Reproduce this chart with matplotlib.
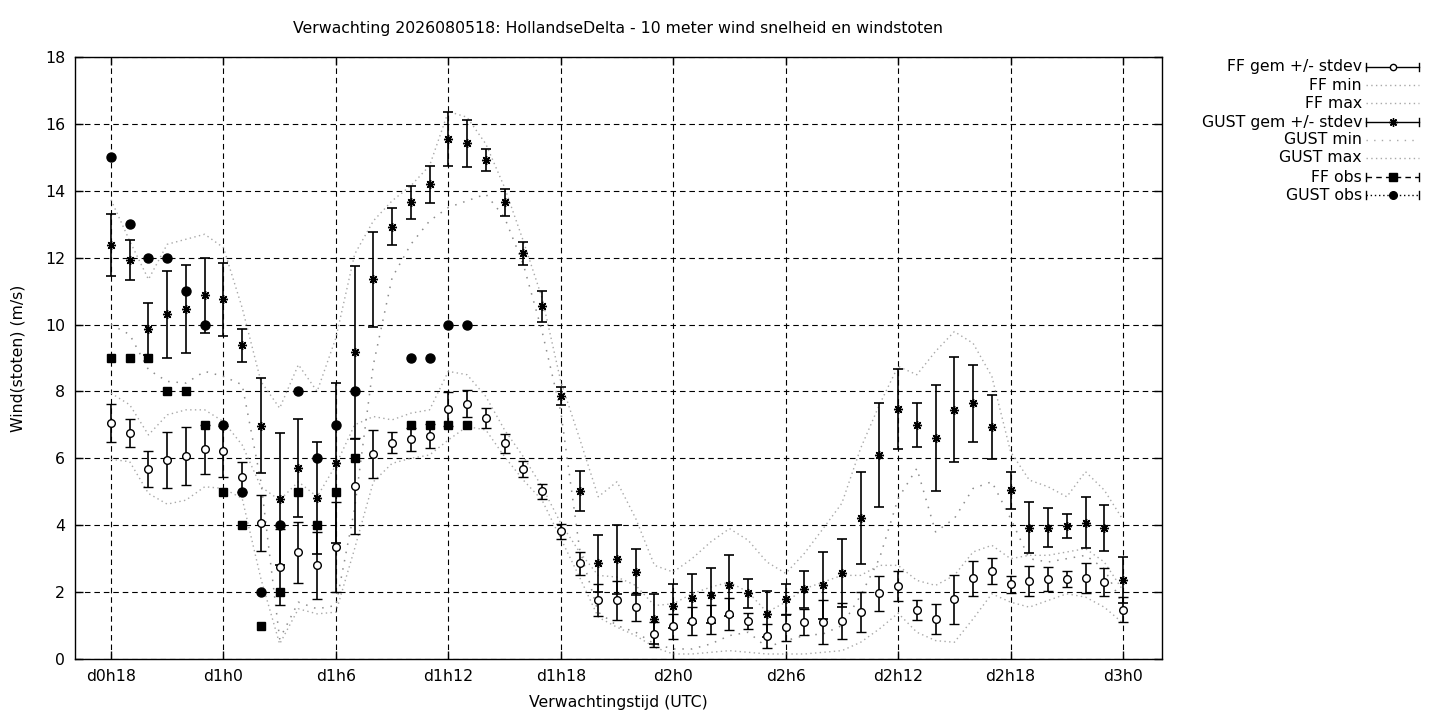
import numpy as np
import matplotlib
matplotlib.use("Agg")
import matplotlib.pyplot as plt
from matplotlib.lines import Line2D

nan = np.nan

# forecast hours since d0h0 (hourly from d0h18 to d3h0)
hours = list(range(18, 73))

ff_mean = [7.05, 6.75, 5.67, 5.94, 6.06, 6.27, 6.21, 5.44, 4.07, 2.75,
           3.19, 2.80, 3.34, 5.17, 6.12, 6.47, 6.57, 6.67, 7.47, 7.63,
           7.20, 6.45, 5.68, 5.01, 3.82, 2.86, 1.76, 1.76, 1.55, 0.74,
           0.98, 1.14, 1.17, 1.34, 1.14, 0.68, 0.95, 1.10, 1.10, 1.13,
           1.41, 1.96, 2.18, 1.47, 1.19, 1.78, 2.41, 2.63, 2.23, 2.33,
           2.38, 2.38, 2.41, 2.29, 1.47]
ff_sd = [0.57, 0.42, 0.54, 0.84, 0.87, 0.73, 0.76, 0.44, 0.83, 1.14,
         0.91, 1.00, 1.35, 1.43, 0.72, 0.32, 0.34, 0.36, 0.50, 0.40,
         0.30, 0.28, 0.25, 0.23, 0.22, 0.35, 0.47, 0.58, 0.41, 0.38,
         0.37, 0.42, 0.43, 0.48, 0.24, 0.36, 0.40, 0.39, 0.66, 0.54,
         0.60, 0.52, 0.44, 0.30, 0.45, 0.74, 0.53, 0.40, 0.25, 0.46,
         0.36, 0.24, 0.45, 0.42, 0.37]

gust_mean = [12.37, 11.92, 9.86, 10.31, 10.46, 10.88, 10.76, 9.38, 6.98, 4.78,
             5.71, 4.81, 5.85, 9.17, 11.35, 12.93, 13.66, 14.19, 15.54, 15.42,
             14.92, 13.65, 12.13, 10.54, 7.86, 5.02, 2.86, 2.98, 2.59, 1.19,
             1.58, 1.81, 1.90, 2.20, 1.96, 1.34, 1.78, 2.08, 2.20, 2.56,
             4.21, 6.10, 7.47, 7.00, 6.60, 7.45, 7.65, 6.93, 5.05, 3.93,
             3.93, 3.98, 4.08, 3.91, 2.36]
gust_sd = [0.93, 0.60, 0.78, 1.30, 1.31, 1.12, 1.09, 0.50, 1.41, 1.97,
           1.47, 1.67, 2.39, 2.58, 1.41, 0.55, 0.49, 0.56, 0.81, 0.71,
           0.34, 0.40, 0.35, 0.46, 0.26, 0.60, 0.86, 1.03, 0.69, 0.74,
           0.65, 0.73, 0.81, 0.90, 0.44, 0.69, 0.45, 0.56, 0.99, 1.02,
           1.37, 1.55, 1.20, 0.65, 1.59, 1.57, 1.15, 0.96, 0.55, 0.76,
           0.58, 0.35, 0.76, 0.69, 0.68]

ff_min = [5.97, 5.90, 4.95, 4.63, 4.75, 5.15, 5.10, 4.80, 2.40, 0.45,
          1.50, 1.35, 1.40, 3.30, 5.30, 5.85, 6.00, 6.10, 6.55, 6.95,
          6.85, 6.05, 5.35, 4.75, 3.60, 2.45, 1.25, 0.95, 0.70, 0.35,
          0.15, 0.15, 0.20, 0.25, 0.20, 0.15, 0.15, 0.15, 0.20, 0.25,
          0.50, 0.90, 1.37, 0.80, 0.55, 0.50, 1.20, 1.95, 1.70, 1.55,
          1.75, 1.95, 1.85, 1.55, 1.07]
ff_max = [7.95, 7.60, 6.70, 7.30, 7.45, 7.45, 7.10, 6.40, 5.15, 4.75,
          5.30, 4.85, 5.80, 7.00, 7.25, 7.15, 7.35, 7.45, 8.60, 8.50,
          7.85, 6.85, 6.05, 5.15, 4.06, 3.20, 2.50, 2.45, 2.20, 1.60,
          1.65, 1.95, 2.15, 2.30, 2.00, 1.40, 1.70, 2.10, 2.30, 2.50,
          2.50, 2.80, 2.80, 2.35, 2.20, 2.50, 3.20, 3.40, 3.00, 3.10,
          3.10, 3.20, 3.30, 2.90, 2.05]
gust_min = [10.00, 9.70, 8.65, 8.30, 8.25, 8.60, 8.45, 8.20, 5.30, 0.60,
            1.70, 1.50, 1.60, 4.50, 8.80, 11.40, 12.40, 13.10, 13.50, 13.70,
            13.90, 13.20, 11.80, 9.80, 7.40, 3.30, 1.40, 1.00, 0.80, 0.45,
            0.30, 0.30, 0.45, 0.70, 0.80, 0.35, 0.55, 0.70, 0.75, 1.00,
            1.90, 3.00, 4.80, 5.70, 3.80, 4.20, 5.10, 5.30, 4.20, 3.00,
            2.90, 3.00, 3.10, 2.70, 1.60]
gust_max = [13.73, 12.50, 11.35, 12.40, 12.55, 12.70, 12.30, 10.50, 8.30, 7.50,
            8.80, 8.00, 9.60, 12.10, 13.10, 13.70, 14.15, 14.75, 16.37, 16.20,
            15.40, 14.10, 12.50, 10.80, 8.30, 6.60, 4.85, 5.30, 4.20, 2.80,
            2.60, 3.00, 3.50, 3.90, 3.55, 2.90, 2.56, 3.16, 3.90, 4.66,
            6.30, 7.60, 8.75, 8.50, 9.20, 9.79, 9.44, 8.45, 6.20, 5.35,
            5.15, 4.85, 5.60, 5.05, 4.16]

obs_hours = list(range(18, 38))
ff_obs = [9, 9, 9, 8, 8, 7, 5, 4, 1, 2, 5, 4, 5, 6, nan, nan, 7, 7, 7, 7]
gust_obs = [15, 13, 12, 12, 11, 10, 7, 5, 2, 4, 8, 6, 7, 8, nan, nan, 9, 9, 10, 10]

tick_hours = list(range(18, 73, 6))
tick_labels = ["d0h18", "d1h0", "d1h6", "d1h12", "d1h18",
               "d2h0", "d2h6", "d2h12", "d2h18", "d3h0"]

FS = 11.3
W, H = 1440, 720
fig = plt.figure(figsize=(14.4, 7.2), dpi=100)
plt.rcParams["font.family"] = ["DejaVu Sans"]
ax = fig.add_axes([75 / W, 1 - 659 / H, (1162 - 75) / W, (659 - 57) / H])

grey = "#a8a8a8"
dotted = (0, (1, 2.4))
sparse = (0, (1, 4.5))

ax.plot(hours, ff_min, color=grey, lw=1.0, ls=dotted, zorder=2)
ax.plot(hours, ff_max, color=grey, lw=1.0, ls=dotted, zorder=2)
ax.plot(hours, gust_min, color="#8c8c8c", lw=1.1, ls=sparse, zorder=2)
ax.plot(hours, gust_max, color=grey, lw=1.0, ls=dotted, zorder=2)

ax.errorbar(hours, ff_mean, yerr=ff_sd, fmt="o", color="black", ecolor="black",
            mfc="white", mec="black", ms=5.5, mew=1.0, elinewidth=1.2,
            capsize=3.6, capthick=1.2, zorder=4)
ax.errorbar(hours, gust_mean, yerr=gust_sd, fmt="none", ecolor="black",
            elinewidth=1.2, capsize=3.6, capthick=1.2, zorder=4)
ax.plot(hours, gust_mean, ls="none", marker=(8, 2, 0), ms=6.5, mec="black",
        mew=1.0, zorder=5)

ax.plot(obs_hours, ff_obs, ls="none", marker="s", ms=6, color="black", zorder=5)
ax.plot(obs_hours, gust_obs, ls="none", marker="o", ms=6.5, color="black", zorder=5)

ax.set_xlim(16.08, 74.08)
ax.set_ylim(0, 18)
ax.set_yticks(range(0, 19, 2))
ax.set_xticks(tick_hours)
ax.set_xticklabels(tick_labels)
ax.tick_params(direction="in", length=6, width=1, top=True, right=True,
               labelsize=FS, pad=7, colors="black")
ax.grid(True, color="black", lw=0.8, ls=(0, (5, 3.5)))
ax.set_axisbelow(True)
for s in ax.spines.values():
    s.set_linewidth(1.0)

ax.set_xlabel("Verwachtingstijd (UTC)", fontsize=FS, labelpad=8)
ax.set_ylabel("Wind(stoten) (m/s)", fontsize=FS, labelpad=14)
fig.text(618 / W, 1 - 29 / H,
         "Verwachting 2026080518: HollandseDelta - 10 meter wind snelheid en windstoten",
         ha="center", va="center", fontsize=FS)

# legend, drawn by hand in gnuplot style (text right aligned, sample on the right)
leg_labels = ["FF gem +/- stdev", "FF min", "FF max", "GUST gem +/- stdev",
              "GUST min", "GUST max", "FF obs", "GUST obs"]
row_y = [67, 85, 103, 122, 140, 158, 177, 195]
x0, x1 = 1366, 1419


def fx(px):
    return px / W


def fy(py):
    return 1 - py / H


for lab, py in zip(leg_labels, row_y):
    fig.text(fx(1362), fy(py), lab, ha="right", va="center", fontsize=FS)
    if lab in ("FF min", "FF max", "GUST max", "GUST min"):
        ls = sparse if lab == "GUST min" else dotted
        fig.add_artist(Line2D([fx(x0), fx(x1)], [fy(py), fy(py)], color=grey,
                              lw=1.0, ls=ls, transform=fig.transFigure))
        continue
    if lab.startswith("FF gem") or lab.startswith("GUST gem"):
        ls = "-"
    elif lab == "FF obs":
        ls = (0, (4, 3))
    else:
        ls = (0, (1, 2))
    fig.add_artist(Line2D([fx(x0), fx(x1)], [fy(py), fy(py)], color="black",
                          lw=1.0, ls=ls, transform=fig.transFigure))
    for xe in (x0, x1):
        fig.add_artist(Line2D([fx(xe), fx(xe)], [fy(py - 4), fy(py + 4)],
                              color="black", lw=1.0, transform=fig.transFigure))
    mk = {"FF gem +/- stdev": dict(marker="o", mfc="white", ms=4.5),
          "GUST gem +/- stdev": dict(marker=(8, 2, 0), ms=6),
          "FF obs": dict(marker="s", mfc="black", ms=5.5),
          "GUST obs": dict(marker="o", mfc="black", ms=5.5)}[lab]
    fig.add_artist(Line2D([fx((x0 + x1) / 2)], [fy(py)], ls="none", mec="black",
                          mew=1.0, transform=fig.transFigure, **mk))

fig.savefig("out.png", dpi=100)
